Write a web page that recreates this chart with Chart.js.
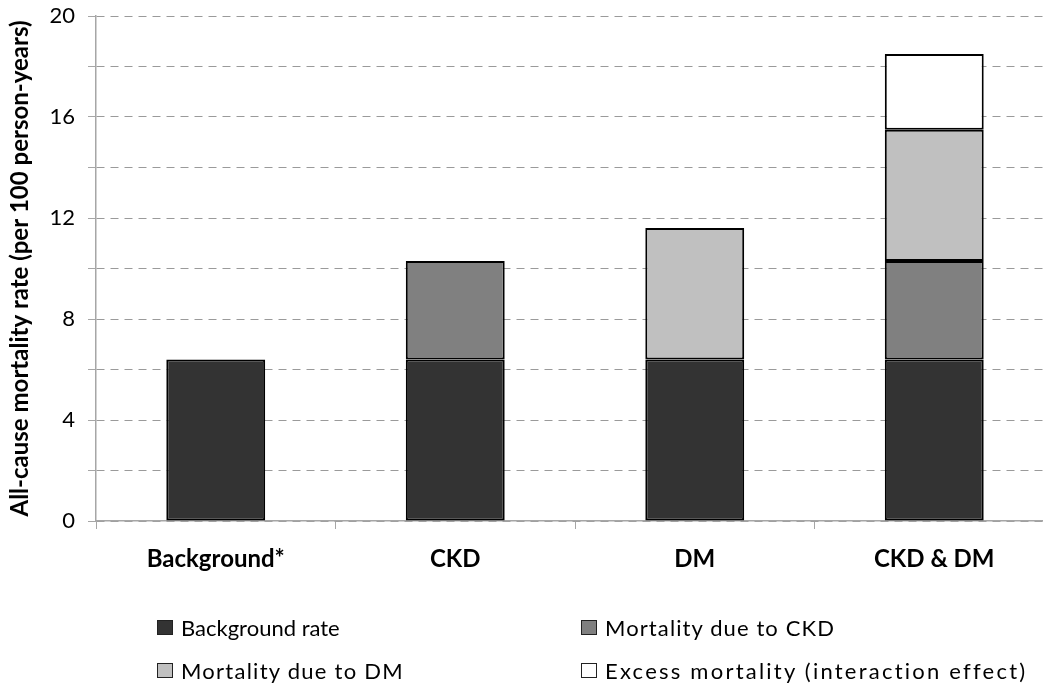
<!DOCTYPE html>
<html>
<head>
<meta charset="utf-8">
<script src="https://cdn.jsdelivr.net/npm/chart.js@4"></script>
<style>
  body { margin: 0; overflow: hidden; background: #fff; width: 1043px; height: 684px; }
  #wrap { position: absolute; left: 0; top: 0; width: 1060px; height: 684px; }
  .leg { position: absolute; font-family: Lato, sans-serif; font-size: 22px; color: #000; white-space: nowrap; display: flex; align-items: center; }
  .leg i { display: inline-block; width: 14px; height: 13px; border: 1.5px solid #222; margin-right: 8px; }
</style>
</head>
<body>
<div id="wrap"><canvas id="mort-chart"></canvas></div>
<div id="legend"></div>
<script>
const categories = ['Background*', 'CKD', 'DM', 'CKD & DM'];
const backgroundRate = [6.4, 6.4, 6.4, 6.4];
const ckdMortality = [null, 3.9, null, 3.9];
const dmMortality = [null, null, 5.2, 5.2];
const excessMortality = [null, null, null, 3.0];
const seriesNames = ['Background rate', 'Mortality due to CKD', 'Mortality due to DM', 'Excess mortality (interaction effect)'];
const seriesColors = ['#333333', '#808080', '#c0c0c0', '#ffffff'];

const axisGray = '#a6a6a6';

const mortChart = new Chart(document.getElementById('mort-chart'), {
    type: 'bar',
    data: {
        labels: categories,
        datasets: [backgroundRate, ckdMortality, dmMortality, excessMortality].map((d, i) => ({
            label: seriesNames[i],
            data: d,
            backgroundColor: seriesColors[i],
            borderColor: '#000',
            borderWidth: 2,
            borderSkipped: false,
            categoryPercentage: 1,
            barPercentage: 0.413,
        }))
    },
    options: {
        responsive: true,
        maintainAspectRatio: false,
        animation: false,
        layout: { padding: { left: 0, top: 16, right: 6, bottom: 0 } },
        plugins: {
            legend: { display: false },
            tooltip: { enabled: false }
        },
        scales: {
            x: {
                stacked: true,
                grid: { offset: true, drawOnChartArea: false, drawTicks: true, tickLength: 8, tickColor: axisGray },
                border: { color: axisGray, width: 1.5 },
                ticks: { color: '#000', font: { family: 'Lato', size: 24, weight: 'bold' }, padding: 16 },
                afterFit(scale) { scale.height = 684 - 521; }
            },
            y: {
                stacked: true,
                min: 0,
                max: 20,
                ticks: {
                    stepSize: 2,
                    autoSkip: false,
                    color: '#000',
                    padding: 13,
                    font: { family: 'Lato', size: 22 },
                    callback: (v) => v % 4 === 0 ? v : ''
                },
                grid: { color: '#9a9a9a', tickColor: axisGray, tickLength: 8 },
                border: { color: axisGray, width: 1.5, dash: [8, 6] },
                title: {
                    display: true,
                    text: 'All-cause mortality rate (per 100 person-years)',
                    color: '#000',
                    font: { family: 'Lato', size: 24, weight: 'bold' },
                    padding: { top: 6, bottom: 0 }
                },
                afterFit(scale) {
                    scale.width = 96;
                    // let the top of the plot sit at the layout padding
                    scale.paddingTop = 0;
                    scale.paddingBottom = 0;
                }
            }
        }
    }
});

// legend in two columns like the original, text stretched to the original widths
const legendPos = [[157, 628], [581, 628], [157, 671], [581, 671]];
const legendTextWidth = [154, 230, 223, 422];
const legendBox = document.getElementById('legend');
mortChart.data.datasets.forEach((ds, i) => {
    const item = document.createElement('div');
    item.className = 'leg';
    item.style.left = legendPos[i][0] + 'px';
    item.style.top = (legendPos[i][1] - 14) + 'px';
    item.innerHTML = `<i style="background:${ds.backgroundColor}"></i><span>${ds.label}</span>`;
    legendBox.appendChild(item);
    const txt = item.querySelector('span');
    const extra = (legendTextWidth[i] - txt.getBoundingClientRect().width) / ds.label.length;
    txt.style.letterSpacing = Math.max(0, extra) + 'px';
});
</script>
</body>
</html>
